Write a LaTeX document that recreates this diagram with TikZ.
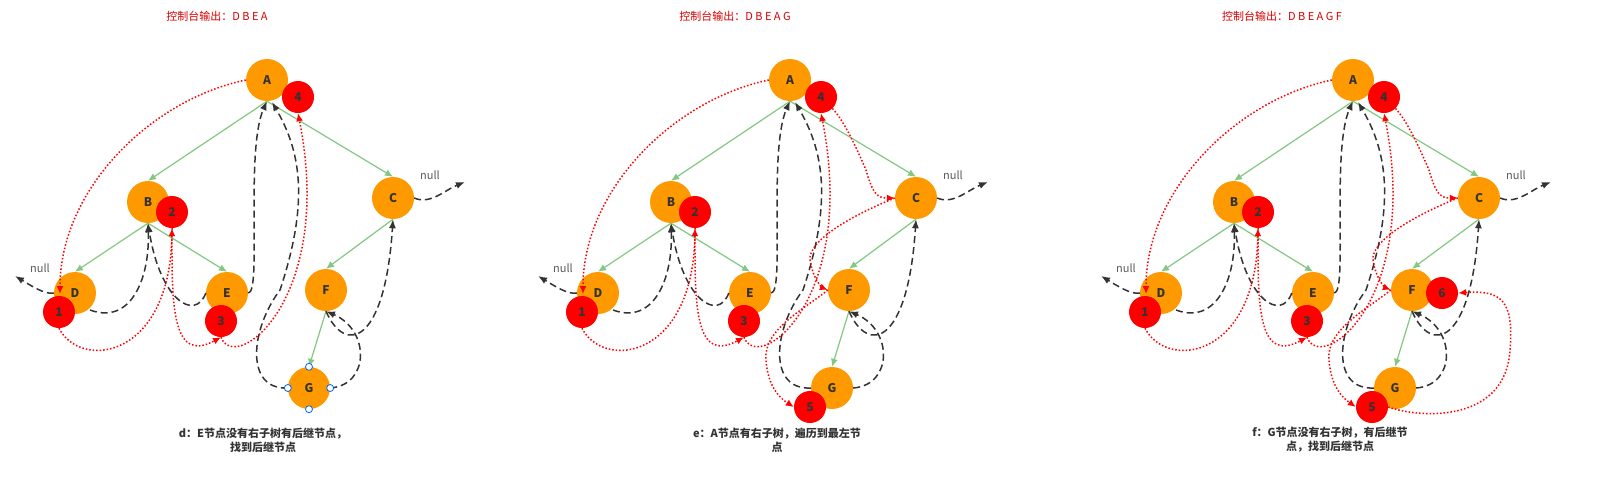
\documentclass[tikz,border=0pt]{standalone}
\usepackage{fontspec}
\newfontfamily\cjk{Noto Sans CJK SC}
\usetikzlibrary{arrows.meta}
\definecolor{org}{HTML}{FF9900}
\definecolor{grn}{HTML}{82C882}
\definecolor{dk}{HTML}{333333}
\tikzset{
 tn/.style={circle,fill=org,minimum size=42pt,inner sep=0pt,font=\cjk\bfseries\fontsize{12}{12}\selectfont,text=dk},
 rn/.style={circle,fill=red,minimum size=32pt,inner sep=0pt,font=\cjk\bfseries\fontsize{12}{12}\selectfont,text=dk},
 ge/.style={draw=grn,line width=1.2pt,-{Latex[length=8pt,width=7pt]}},
 de/.style={draw=dk,line width=1.5pt,dash pattern=on 7pt off 4pt,-{Latex[length=9pt,width=7pt]}},
 re/.style={draw=red,line width=1.5pt,dotted,-{Latex[length=8pt,width=7pt]}},
 hd/.style={circle,draw=blue!60!cyan,fill=white,line width=0.8pt,minimum size=7pt,inner sep=0pt},
 nl/.style={font=\cjk\fontsize{11}{11}\selectfont,text=dk!80},
 ttl/.style={font=\cjk\fontsize{11}{11}\selectfont,text=red!85!black},
 captxt/.style={font=\cjk\bfseries\fontsize{11}{14}\selectfont,text=dk,align=center},
}
\newcommand\basepanel{%
 \node[tn] (A) at (267,80) {A};
 \node[tn] (B) at (148,202) {B};
 \node[tn] (C) at (393,198) {C};
 \node[tn] (D) at (75,293) {D};
 \node[tn] (E) at (227,293) {E};
 \node[tn] (F) at (326,290) {F};
 \node[tn] (G) at (309,388) {G};
 \node[rn] (r4) at (298,97) {4};
 \node[rn] (r2) at (172,212) {2};
 \node[rn] (r1) at (59,312) {1};
 \node[rn] (r3) at (221,321) {3};
 \draw[ge] (A.south) -- (B.north);
 \draw[ge] (A.south) -- (C.north);
 \draw[ge] (B.south) -- (D.north);
 \draw[ge] (B.south) -- (E.north);
 \draw[ge] (C.south) -- (F.north);
 \draw[ge] (F.south) -- (G.north);
 \node[nl] (nD) at (40,268) {null};
 \coordinate (nDe) at (15,276);
 \node[nl] (nC) at (430,175) {null};
 \coordinate (nCe) at (465,182);
 \draw[de] (D.west) .. controls (45,295) and (30,285) .. (nDe);
 \draw[de] (C.east) .. controls (430,205) and (445,190) .. (nCe);
 \draw[de] (90,310) .. controls (130,325) and (150,280) .. (B.south);
 \draw[de] (E.west) .. controls (195,322) and (160,300) .. (B.south);
 \draw[de] (E.east) .. controls (262,293) and (245,150) .. (A.south);
 \draw[de] (G.west) .. controls (245,390) and (250,330) .. (280,290) .. controls (310,200) and (300,150) .. (272,102);
 \draw[de] (G.east) .. controls (370,385) and (370,330) .. (F.south);
 \draw[de] (F.south) .. controls (345,355) and (385,345) .. (C.south);
 \draw[re] (A.west) .. controls (150,100) and (60,190) .. (60,294);
 \draw[re] (r1.south) .. controls (80,370) and (170,360) .. (r2.south);
 \draw[re] (r2.south) .. controls (172,300) and (170,365) .. (r3.south);
 \draw[re] (r3.south) .. controls (235,375) and (335,300) .. (r4.south);
}
\begin{document}
\begin{tikzpicture}[x=1pt,y=-1pt]
\useasboundingbox (0,0) rectangle (1598,488);
\fill[white] (0,0) rectangle (1598,488);
% panel 1
\begin{scope}[name prefix=p1]
 \basepanel
 \node[hd] (h1) at (G.north) {};
 \node[hd] (h2) at (G.south) {};
 \node[hd] (h3) at (G.west) {};
 \node[hd] (h4) at (G.east) {};
\end{scope}
\node[ttl] (t1) at (217,16) {控制台输出：D B E A};
\node[captxt] (c1) at (263,440) {d：E节点没有右子树有后继节点，\\找到后继节点};
% panel 2
\begin{scope}[xshift=523pt,name prefix=p2]
 \basepanel
 \node[rn] (r5) at (287,407) {5};
 \draw[re] (r4.south east) .. controls (320,120) and (330,140) .. (343,170) .. controls (350,195) and (355,198) .. (C.west);
 \draw[re] (C.west) .. controls (330,215) and (285,240) .. (287,260) .. controls (290,280) and (300,288) .. (F.west);
 \draw[re] (F.west) .. controls (280,310) and (240,330) .. (243,360) .. controls (245,390) and (260,400) .. (r5.west);
\end{scope}
\node[ttl] (t2) at (735,16) {控制台输出：D B E A G};
\node[captxt] (c2) at (777,440) {e：A节点有右子树，遍历到最左节\\点};
% panel 3
\begin{scope}[xshift=1086pt,name prefix=p3]
 \basepanel
 \node[rn] (r5) at (286,407) {5};
 \node[rn] (r6) at (356,293) {6};
 \draw[re] (r4.south east) .. controls (320,120) and (330,140) .. (343,170) .. controls (350,195) and (355,198) .. (C.west);
 \draw[re] (C.west) .. controls (330,215) and (285,240) .. (287,260) .. controls (290,280) and (300,288) .. (F.west);
 \draw[re] (F.west) .. controls (280,310) and (240,330) .. (243,360) .. controls (245,390) and (260,400) .. (r5.west);
 \draw[re] (r5.east) .. controls (340,420) and (420,420) .. (424,350) .. controls (428,300) and (415,290) .. (r6.east);
\end{scope}
\node[ttl] (t3) at (1282,16) {控制台输出：D B E A G F};
\node[captxt] (c3) at (1330,440) {f：G节点没有右子树，有后继节\\点，找到后继节点};
\end{tikzpicture}
\end{document}
